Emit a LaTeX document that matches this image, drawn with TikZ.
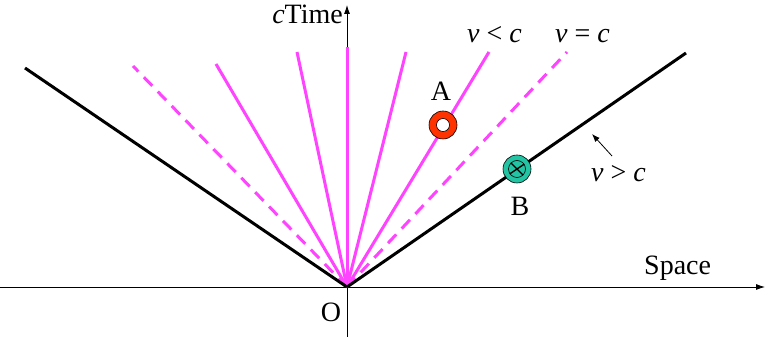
\documentclass[tikz,border=0pt]{standalone}
\usepackage{fontspec}
\setmainfont{Liberation Serif}
\newfontfamily\timesfont{Liberation Serif}
\usetikzlibrary{arrows.meta}
\definecolor{conemagenta}{HTML}{FF44FF}
\definecolor{eventred}{HTML}{FF3300}
\definecolor{eventteal}{HTML}{22C4A4}

\begin{document}
\begin{tikzpicture}[
        x=1pt, y=1pt,
        axis/.style={-{Latex[length=9pt,width=6pt]}, line width=0.8pt, black},
        worldline/.style={line width=3pt, black},
        timelike/.style={line width=3pt, conemagenta},
        lightlike/.style={timelike, dash pattern=on 12pt off 8pt},
        txt/.style={font=\timesfont\fontsize{28}{32}\selectfont, inner sep=0pt},
        event/.style={circle, draw=black, line width=0.6pt, minimum size=28pt, inner sep=0pt},
        pointer/.style={-{Latex[length=8pt,width=6pt]}, line width=0.8pt, black}
    ]
    \useasboundingbox (0,0) rectangle (769,337);

    % axes
    \coordinate (O) at (347,50);
    \coordinate (spaceL) at (0,50);
    \coordinate (spaceR) at (765,50);
    \coordinate (timeB) at (347,0);
    \coordinate (timeT) at (347,332);
    \draw[axis] (spaceL) -- (spaceR);
    \draw[axis] (timeB) -- (timeT);

    % light cone and slower world lines
    \coordinate (dashL) at (133,271);
    \coordinate (dashR) at (567,285);
    \draw[lightlike] (O) -- (dashL);
    \draw[lightlike] (O) -- (dashR);
    \foreach \tip in {(216,273),(297,285),(347,290),(406,285),(489,285)}
        \draw[timelike] (O) -- \tip;

    % faster than light
    \coordinate (fastL) at (25,269);
    \coordinate (fastR) at (686,284);
    \draw[worldline] (O) -- (fastL);
    \draw[worldline] (O) -- (fastR);

    % events
    \node[event, fill=eventred] (A) at (443,212) {};
    \node[event, fill=white, minimum size=13pt] (Acore) at (A) {};
    \node[event, fill=eventteal] (B) at (517,168) {};
    \node[event, fill=eventteal, minimum size=17pt] (Bcore) at (B) {};
    \draw[line width=1.4pt] (Bcore.north west) -- (Bcore.south east);
    \draw[line width=1.4pt] (Bcore.214.6) -- (Bcore.34.6);

    % labels
    \node[txt, anchor=base] (labA) at (441,236) {A};
    \node[txt, anchor=base] (labB) at (520,121) {B};
    \node[txt, anchor=base] (labO) at (331,15) {O};
    \node[txt, anchor=base west] (labspace) at (644,62) {Space};
    \node[txt, anchor=base east] (labtime) at (343,313) {\textit{c}Time};
    \node[txt, anchor=base west] (slow) at (467,294) {\textit{v} < \textit{c}};
    \node[txt, anchor=base west] (light) at (555,294) {\textit{v} = \textit{c}};
    \node[txt, anchor=base west] (fast) at (591,155) {\textit{v} > \textit{c}};
    \coordinate (fasttip) at (592,203);
    \coordinate (fastfoot) at (612,181);
    \draw[pointer] (fastfoot) -- (fasttip);
\end{tikzpicture}
\end{document}
